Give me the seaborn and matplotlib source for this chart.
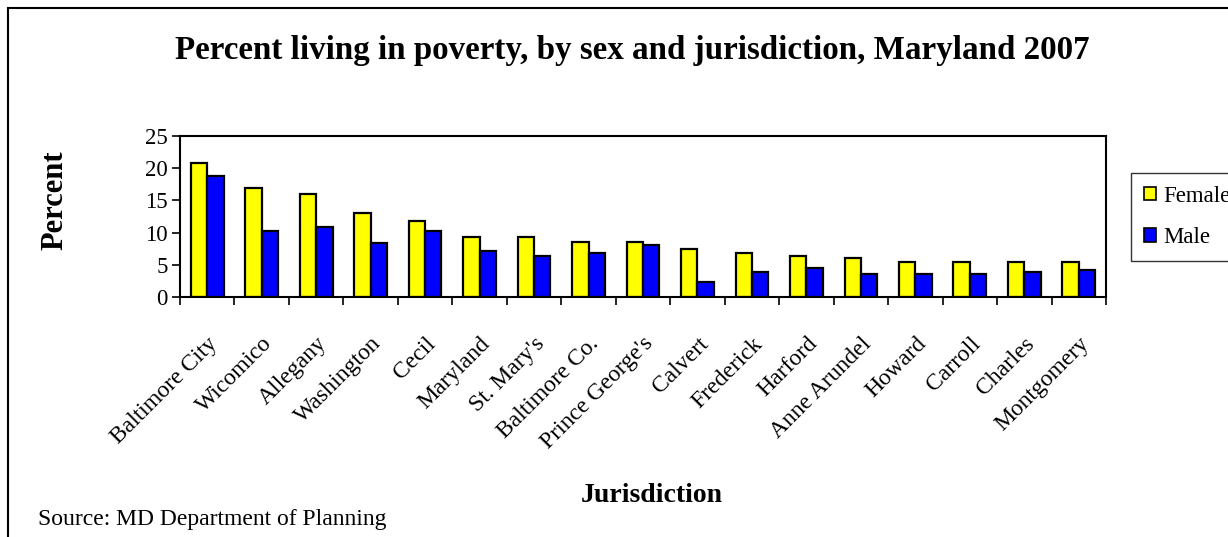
import matplotlib
matplotlib.use("Agg")
import matplotlib.pyplot as plt
import matplotlib.transforms as mtransforms
import seaborn as sns
import pandas as pd
from matplotlib.patches import Rectangle

jurisdictions = ["Baltimore City", "Wicomico", "Allegany", "Washington", "Cecil",
                 "Maryland", "St. Mary's", "Baltimore Co.", "Prince George's", "Calvert",
                 "Frederick", "Harford", "Anne Arundel", "Howard", "Carroll",
                 "Charles", "Montgomery"]
female = [20.8, 17.0, 16.0, 13.1, 11.8, 9.25, 9.25, 8.6, 8.6, 7.4,
          6.8, 6.4, 6.1, 5.5, 5.5, 5.5, 5.5]
male = [18.85, 10.2, 10.9, 8.4, 10.2, 7.1, 6.4, 6.8, 8.1, 2.3,
        3.9, 4.5, 3.6, 3.6, 3.6, 3.9, 4.2]
sexes = ["Female", "Male"]
colors = {"Female": "#FFFF00", "Male": "#0000FF"}

df = pd.DataFrame({
    "Jurisdiction": jurisdictions * 2,
    "Percent": female + male,
    "Sex": ["Female"] * len(jurisdictions) + ["Male"] * len(jurisdictions),
})

sns.set_style("white")
plt.rcParams["font.family"] = ["Liberation Serif", "DejaVu Serif"]
plt.rcParams["text.color"] = "black"
plt.rcParams["axes.labelcolor"] = "black"
plt.rcParams["xtick.color"] = "black"
plt.rcParams["ytick.color"] = "black"

W, H = 1228, 537
fig = plt.figure(figsize=(W / 100, H / 100), dpi=100)
ax = fig.add_axes([180 / W, 1 - 297 / H, (1106 - 180) / W, (297 - 136) / H])

sns.barplot(data=df, x="Jurisdiction", y="Percent", hue="Sex", hue_order=sexes,
            palette=colors, width=0.6, edgecolor="black", linewidth=1.6,
            saturation=1, ax=ax, legend=False)

n = len(jurisdictions)
ax.set_xlim(-0.5, n - 0.5)
ax.set_ylim(0, 25)
ax.set_yticks([0, 5, 10, 15, 20, 25])
ax.set_xticks(range(n))
ax.set_xticklabels(jurisdictions, rotation=45, ha="right", rotation_mode="anchor",
                   fontsize=17)
shift = mtransforms.ScaledTranslation(-4 / 100, 0, fig.dpi_scale_trans)
for lbl in ax.get_xticklabels():
    lbl.set_transform(lbl.get_transform() + shift)
ax.set_xticks([i + 0.5 for i in range(-1, n)], minor=True)
ax.tick_params(axis="x", which="major", length=0, pad=26)
ax.tick_params(axis="x", which="minor", length=6, width=1.2, color="black",
               direction="out", bottom=True)
ax.tick_params(axis="y", length=6, width=1.2, color="black", direction="out",
               left=True, labelsize=16.5, pad=3)
for s in ax.spines.values():
    s.set_visible(True)
    s.set_color("black")
    s.set_linewidth(1.5)
ax.set_xlabel("")
ax.set_ylabel("")
ax.grid(False)

fig.text(55 / W, 1 - 200 / H, "Percent", rotation=90, fontsize=22, fontweight="bold",
         ha="center", va="center")
fig.text(652 / W, 1 - 496 / H, "Jurisdiction", fontsize=20, fontweight="bold",
         ha="center", va="center")
fig.text(632 / W, 1 - 50 / H,
         "Percent living in poverty, by sex and jurisdiction, Maryland 2007",
         fontsize=23.8, fontweight="bold", ha="center", va="center")
fig.text(38 / W, 1 - 520 / H, "Source: MD Department of Planning", fontsize=17,
         ha="left", va="center")

handles = [Rectangle((0, 0), 1, 1, facecolor=colors[s], edgecolor="black", linewidth=1.2)
           for s in sexes]
leg = fig.legend(handles, sexes, loc="upper left",
                 bbox_to_anchor=(1131 / W, 1 - 173 / H), fontsize=16.5,
                 frameon=True, fancybox=False, shadow=False, handlelength=0.55,
                 handleheight=0.55, handletextpad=0.3, labelspacing=0.9,
                 borderpad=0.55, borderaxespad=0)
leg.get_frame().set_edgecolor("black")
leg.get_frame().set_linewidth(1.0)

fig.patches.append(Rectangle((8 / W, -0.1), 1.2, 1 - 8 / H + 0.1, transform=fig.transFigure,
                             fill=False, edgecolor="black", linewidth=1.5))

fig.savefig("out.png", dpi=100)
